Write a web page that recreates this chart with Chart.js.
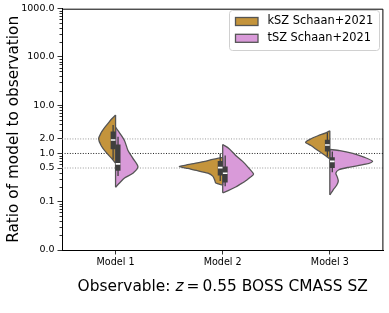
<!DOCTYPE html>
<html><head><meta charset="utf-8">
<script src="https://cdn.jsdelivr.net/npm/chart.js@4.4.1/dist/chart.umd.min.js"></script>
<style>html,body{margin:0;padding:0;background:#fff;}canvas{display:block;}</style>
</head><body>
<canvas id="c" width="389" height="313"></canvas>
<script>
// ---------------- data ----------------
const categories = ['Model 1', 'Model 2', 'Model 3'];
const seriesNames = ['kSZ Schaan+2021', 'tSZ Schaan+2021'];
const yTicks = [0.01, 0.1, 0.5, 1, 2, 10, 100, 1000];
const refLines = [2, 1, 0.5];

// violin density profiles: [ratio, half-width density (category units)]
const kszProfiles = [
  [[6.25,0],[5.18,.037],[4.10,.074],[3.24,.111],[2.68,.135],[2.02,.158],[1.46,.135],[1.05,.088],[0.79,.037],[0.625,0]],
  [[0.83,0],[0.755,.093],[0.687,.167],[0.625,.26],[0.569,.353],[0.535,.404],[0.49,.325],[0.45,.26],[0.39,.139],[0.34,.093],[0.28,.074],[0.244,.065],[0.222,0]],
  [[2.95,0],[2.68,.037],[2.33,.111],[2.02,.176],[1.70,.227],[1.46,.176],[1.15,.111],[0.91,.042],[0.77,0]]
];
const tszProfiles = [
  [[3.47,0],[2.68,.037],[1.84,.084],[1.15,.116],[0.79,.162],[0.53,.209],[0.39,.162],[0.31,.084],[0.244,.037],[0.20,0]],
  [[1.53,0],[1.26,.06],[0.91,.121],[0.687,.186],[0.49,.246],[0.373,.288],[0.324,.26],[0.28,.223],[0.233,.167],[0.202,.121],[0.168,.046],[0.153,0]],
  [[1.21,0],[1.15,.093],[1.0,.214],[0.83,.325],[0.687,.399],[0.60,.334],[0.518,.176],[0.46,.084],[0.39,.056],[0.324,.07],[0.268,.079],[0.222,.065],[0.184,.037],[0.16,.019],[0.139,0]]
];
// inner box stats: [whiskerLow, q1, median, q3, whiskerHigh]
const kszBoxes = [[0.75,1.22,1.9,2.85,3.9],[0.27,0.35,0.51,0.70,1.0],[0.87,1.10,1.50,1.93,2.68]];
const tszBoxes = [[0.34,0.44,0.61,1.53,2.22],[0.21,0.25,0.39,0.535,0.91],[0.41,0.50,0.687,0.84,1.1]];

// ---------------- style ----------------
const FONT = 'DejaVu Sans';
const COLORS = ['#c4943c', '#d99ad9'];
const EDGE = '#555555';
const BOXC = '#3f3f3f';
const BOX_OFF = 0.023;

const datasets = [];
refLines.forEach(v => {
  datasets.push({
    data: [{x: -0.5, y: v}, {x: 2.5, y: v}],
    showLine: true, pointRadius: 0, borderWidth: 1,
    borderDash: [1, 1.6],
    borderColor: v === 1 ? '#222222' : '#9a9a9a',
    order: 10
  });
});
[kszProfiles, tszProfiles].forEach((profiles, s) => {
  const sign = s === 0 ? -1 : 1;
  profiles.forEach((prof, i) => {
    datasets.push({
      data: prof.map(([v, w]) => ({x: i + sign * w, y: v})),
      showLine: true, fill: 'shape', tension: 0.25,
      backgroundColor: COLORS[s], borderColor: EDGE, borderWidth: 1.3,
      pointRadius: 0, order: 6
    });
    datasets.push({
      data: [{x: i, y: prof[0][0]}, {x: i, y: prof[prof.length - 1][0]}],
      showLine: true, pointRadius: 0, borderColor: EDGE, borderWidth: 1.3, order: 5
    });
  });
});
[kszBoxes, tszBoxes].forEach((boxes, s) => {
  const sign = s === 0 ? -1 : 1;
  boxes.forEach((b, i) => {
    const x = i + sign * BOX_OFF;
    datasets.push({data: [{x, y: b[0]}, {x, y: b[4]}], showLine: true, pointRadius: 0,
      borderColor: BOXC, borderWidth: 1.3, order: 3});
    datasets.push({data: [{x, y: b[1]}, {x, y: b[3]}], showLine: true, pointRadius: 0,
      borderColor: BOXC, borderWidth: 5, borderCapStyle: 'butt', order: 2});
    datasets.push({data: [{x, y: b[2]}], showLine: false, pointStyle: 'line', pointRadius: 2.3,
      pointBorderWidth: 1.6, pointBorderColor: '#ffffff', order: 1});
  });
});

const extras = {
  id: 'extras',
  afterDraw(chart) {
    const {ctx, chartArea: a, scales: {y}} = chart;
    ctx.save();
    // top/right spines
    ctx.strokeStyle = '#000'; ctx.lineWidth = 1;
    ctx.beginPath();
    ctx.moveTo(a.left, a.top + 0.5); ctx.lineTo(a.right - 0.5, a.top + 0.5); ctx.lineTo(a.right - 0.5, a.bottom);
    ctx.stroke();
    // minor log ticks
    ctx.lineWidth = 0.8;
    ctx.beginPath();
    for (let k = -2; k <= 2; k++) {
      for (let m = 2; m <= 9; m++) {
        const v = m * Math.pow(10, k);
        if (yTicks.some(t => Math.abs(t - v) < 1e-9)) continue;
        const py = Math.round(y.getPixelForValue(v)) + 0.5;
        ctx.moveTo(a.left, py); ctx.lineTo(a.left - 2.5, py);
      }
    }
    ctx.stroke();
    // legend
    const lx = 229.5, ly = 10.5, lw = 150, lh = 40, r = 3;
    ctx.beginPath();
    ctx.moveTo(lx + r, ly); ctx.lineTo(lx + lw - r, ly); ctx.quadraticCurveTo(lx + lw, ly, lx + lw, ly + r);
    ctx.lineTo(lx + lw, ly + lh - r); ctx.quadraticCurveTo(lx + lw, ly + lh, lx + lw - r, ly + lh);
    ctx.lineTo(lx + r, ly + lh); ctx.quadraticCurveTo(lx, ly + lh, lx, ly + lh - r);
    ctx.lineTo(lx, ly + r); ctx.quadraticCurveTo(lx, ly, lx + r, ly);
    ctx.closePath();
    ctx.fillStyle = 'rgba(255,255,255,0.8)'; ctx.fill();
    ctx.strokeStyle = '#d0d0d0'; ctx.lineWidth = 1; ctx.stroke();
    seriesNames.forEach((name, j) => {
      const cy = 21.5 + j * 16.8;
      ctx.fillStyle = COLORS[j];
      ctx.fillRect(235.5, cy - 4, 22.5, 8);
      ctx.strokeStyle = EDGE; ctx.lineWidth = 1.3;
      ctx.strokeRect(235.5, cy - 4, 22.5, 8);
      ctx.fillStyle = '#000';
      ctx.font = '11.4px "' + FONT + '"';
      ctx.textBaseline = 'middle'; ctx.textAlign = 'left';
      ctx.fillText(name, 267.5, cy);
    });
    // x-axis title with italic z
    const parts = [['Observable: ', ''], ['z', 'italic '], ['\u2009=\u20090.55 BOSS CMASS SZ', '']];
    const size = 15.4;
    let total = 0;
    parts.forEach(p => { ctx.font = p[1] + size + 'px "' + FONT + '"'; total += ctx.measureText(p[0]).width; });
    let x = (a.left + a.right) / 2 - total / 2;
    ctx.fillStyle = '#000'; ctx.textBaseline = 'middle'; ctx.textAlign = 'left';
    parts.forEach(p => {
      ctx.font = p[1] + size + 'px "' + FONT + '"';
      ctx.fillText(p[0], x, 287);
      x += ctx.measureText(p[0]).width;
    });
    ctx.restore();
  }
};

new Chart(document.getElementById('c'), {
  type: 'scatter',
  data: {datasets},
  options: {
    responsive: false, animation: false, devicePixelRatio: 1,
    layout: {padding: {top: 6, right: 4, left: 0, bottom: 0}},
    plugins: {legend: {display: false}, tooltip: {enabled: false}},
    scales: {
      x: {
        type: 'linear', min: -0.5, max: 2.5,
        afterBuildTicks: s => { s.ticks = categories.map((_, i) => ({value: i})); },
        afterFit: s => { s.height = 63; },
        ticks: {callback: v => categories[v], font: {family: FONT, size: 9.6}, color: '#000', padding: 2, maxRotation: 0, autoSkip: false},
        grid: {drawOnChartArea: false, tickLength: 4.5, color: '#000', tickWidth: 0.8},
        border: {color: '#000', width: 1}
      },
      y: {
        type: 'logarithmic', min: 0.01, max: 1000,
        afterBuildTicks: s => { s.ticks = yTicks.map(v => ({value: v})); },
        afterFit: s => { s.width = 62; },
        ticks: {callback: v => Number(v).toFixed(1), font: {family: FONT, size: 9.5}, color: '#000', padding: 3, autoSkip: false},
        grid: {drawOnChartArea: false, tickLength: 4.5, color: '#000', tickWidth: 0.8},
        border: {color: '#000', width: 1},
        title: {display: true, text: 'Ratio of model to observation', color: '#000',
          font: {family: FONT, size: 15.3, lineHeight: 1}, padding: {top: 6.5, bottom: 0}}
      }
    }
  },
  plugins: [extras]
});
</script>
</body></html>
